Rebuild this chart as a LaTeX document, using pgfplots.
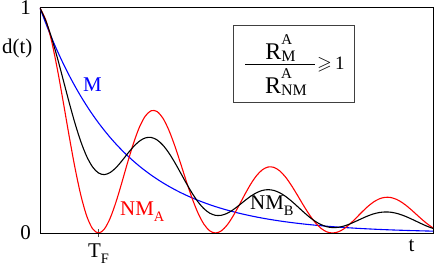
\documentclass[border=0pt]{standalone}
\usepackage{amssymb}
\usepackage{fontspec}
\setmainfont{Liberation Serif}
\usepackage{pgfplots}
\pgfplotsset{compat=1.18}
\newcommand\lsub[1]{\raisebox{-0.3em}{\fontsize{14.5}{16}\selectfont #1}}
\newcommand\supsub[2]{\rlap{\raisebox{15bp}{\fontsize{15}{18}\selectfont #1}}{\raisebox{-2bp}{\fontsize{16}{19}\selectfont #2}}}
\begin{document}
\begin{tikzpicture}[font=\fontsize{21}{25}\selectfont]
\begin{axis}[
  at={(0,0)}, anchor=south west,
  width=393bp, height=225bp, scale only axis,
  xmin=0, xmax=6.72, ymin=0, ymax=1,
  xtick={1}, xticklabels={T\lsub{F}},
  ytick={0,1}, yticklabels={0,1},
  xtick pos=bottom,
  axis line style={black, line width=1pt},
  major tick length=8bp,
  tick align=center,
  ytick style={draw=none},
  xtick style={black!70, line width=0.6pt},
  yticklabel style={inner sep=0pt, xshift=-5bp},
  xticklabel style={inner sep=0pt, yshift=-6.5bp},
  /pgf/number format/assume math mode=true,
]
% M (blue)
\addplot[blue, line width=1.1pt, smooth] coordinates {
(0,1.0000)(0.1,0.9311)(0.2,0.8669)(0.3,0.8072)(0.4,0.7516)(0.5,0.6998)(0.6,0.6516)(0.7,0.6067)(0.8,0.5649)(0.9,0.5259)
(1.0,0.4897)(1.1,0.4560)(1.2,0.4245)(1.3,0.3953)(1.4,0.3681)(1.5,0.3427)(1.6,0.3191)(1.7,0.2971)(1.8,0.2766)(1.9,0.2575)
(2.0,0.2398)(2.1,0.2233)(2.2,0.2079)(2.3,0.1936)(2.4,0.1802)(2.5,0.1678)(2.6,0.1563)(2.7,0.1455)(2.8,0.1355)(2.9,0.1261)
(3.0,0.1174)(3.1,0.1093)(3.2,0.1018)(3.3,0.0948)(3.4,0.0882)(3.5,0.0822)(3.6,0.0765)(3.7,0.0712)(3.8,0.0663)(3.9,0.0617)
(4.0,0.0575)(4.1,0.0535)(4.2,0.0498)(4.3,0.0464)(4.4,0.0432)(4.5,0.0402)(4.6,0.0375)(4.7,0.0349)(4.8,0.0325)(4.9,0.0302)
(5.0,0.0282)(5.1,0.0262)(5.2,0.0244)(5.3,0.0228)(5.4,0.0212)(5.5,0.0197)(5.6,0.0184)(5.7,0.0171)(5.8,0.0159)(5.9,0.0148)
(6.0,0.0138)(6.1,0.0128)(6.2,0.0120)(6.3,0.0111)(6.4,0.0104)(6.5,0.0097)(6.6,0.0090)(6.7,0.0084)(6.72,0.0083)
};
% NM_A (red)
\addplot[red, line width=1.1pt, smooth] coordinates {
(0,1.0000)(0.1,0.9459)(0.2,0.8505)(0.3,0.7238)(0.4,0.5786)(0.5,0.4286)(0.6,0.2872)(0.7,0.1661)(0.8,0.0746)(0.9,0.0185)
(1.0,0.0000)(1.1,0.0174)(1.2,0.0660)(1.3,0.1381)(1.4,0.2245)(1.5,0.3150)(1.6,0.3998)(1.7,0.4703)(1.8,0.5195)(1.9,0.5433)
(2.0,0.5401)(2.1,0.5109)(2.2,0.4593)(2.3,0.3909)(2.4,0.3125)(2.5,0.2315)(2.6,0.1551)(2.7,0.0897)(2.8,0.0403)(2.9,0.0100)
(3.0,0.0000)(3.1,0.0094)(3.2,0.0356)(3.3,0.0746)(3.4,0.1212)(3.5,0.1701)(3.6,0.2160)(3.7,0.2540)(3.8,0.2806)(3.9,0.2934)
(4.0,0.2917)(4.1,0.2759)(4.2,0.2481)(4.3,0.2111)(4.4,0.1688)(4.5,0.1250)(4.6,0.0838)(4.7,0.0485)(4.8,0.0218)(4.9,0.0054)
(5.0,0.0000)(5.1,0.0051)(5.2,0.0192)(5.3,0.0403)(5.4,0.0655)(5.5,0.0919)(5.6,0.1166)(5.7,0.1372)(5.8,0.1516)(5.9,0.1585)
(6.0,0.1575)(6.1,0.1490)(6.2,0.1340)(6.3,0.1140)(6.4,0.0912)(6.5,0.0675)(6.6,0.0452)(6.7,0.0262)(6.72,0.0229)
};
% NM_B (black)
\addplot[black, line width=1.1pt, smooth] coordinates {
(0,1.0000)(0.1,0.9423)(0.2,0.8658)(0.3,0.7755)(0.4,0.6777)(0.5,0.5790)(0.6,0.4861)(0.7,0.4048)(0.8,0.3396)(0.9,0.2932)
(1.0,0.2669)(1.1,0.2594)(1.2,0.2687)(1.3,0.2905)(1.4,0.3205)(1.5,0.3533)(1.6,0.3840)(1.7,0.4082)(1.8,0.4226)(1.9,0.4247)
(2.0,0.4141)(2.1,0.3909)(2.2,0.3571)(2.3,0.3154)(2.4,0.2691)(2.5,0.2220)(2.6,0.1776)(2.7,0.1390)(2.8,0.1088)(2.9,0.0885)
(3.0,0.0785)(3.1,0.0787)(3.2,0.0875)(3.3,0.1029)(3.4,0.1224)(3.5,0.1433)(3.6,0.1629)(3.7,0.1787)(3.8,0.1890)(3.9,0.1926)
(4.0,0.1891)(4.1,0.1787)(4.2,0.1625)(4.3,0.1418)(4.4,0.1186)(4.5,0.0947)(4.6,0.0723)(4.7,0.0529)(4.8,0.0380)(4.9,0.0282)
(5.0,0.0241)(5.1,0.0253)(5.2,0.0310)(5.3,0.0404)(5.4,0.0519)(5.5,0.0639)(5.6,0.0753)(5.7,0.0847)(5.8,0.0909)(5.9,0.0935)
(6.0,0.0923)(6.1,0.0872)(6.2,0.0790)(6.3,0.0683)(6.4,0.0563)(6.5,0.0439)(6.6,0.0321)(6.7,0.0221)(6.72,0.0203)
};
\end{axis}
% labels
\node[blue, anchor=base west, inner sep=0pt] at (43bp,141bp) {M};
\node[red, anchor=base west, inner sep=0pt] at (80bp,18bp) {NM\lsub{A}};
\node[black, anchor=base west, inner sep=0pt] at (210bp,24bp) {NM\lsub{B}};
\node[anchor=base west, inner sep=0pt] at (-38bp,179bp) {d(t)};
\node[anchor=base, inner sep=0pt] at (371.5bp,-18bp) {t};
% annotation box
\draw[black!75, line width=0.8pt] (193bp,131bp) rectangle (314bp,208bp);
\node[anchor=base, inner sep=0pt, font=\fontsize{24}{28}\selectfont] at (240.5bp,173bp) {R\supsub{A}{M}};
\draw[black, line width=0.7pt] (205bp,168.3bp) -- (275bp,168.3bp);
\node[anchor=base, inner sep=0pt, font=\fontsize{24}{28}\selectfont] at (246bp,139bp) {R\supsub{A}{NM}};
\node[anchor=base west, inner sep=0pt, font=\fontsize{19}{22}\selectfont] at (277bp,163bp) {$\geqslant$\,1};
\pgfresetboundingbox
\path[use as bounding box] (-40bp,-33bp) rectangle (396bp,233bp);
\end{tikzpicture}
\end{document}
